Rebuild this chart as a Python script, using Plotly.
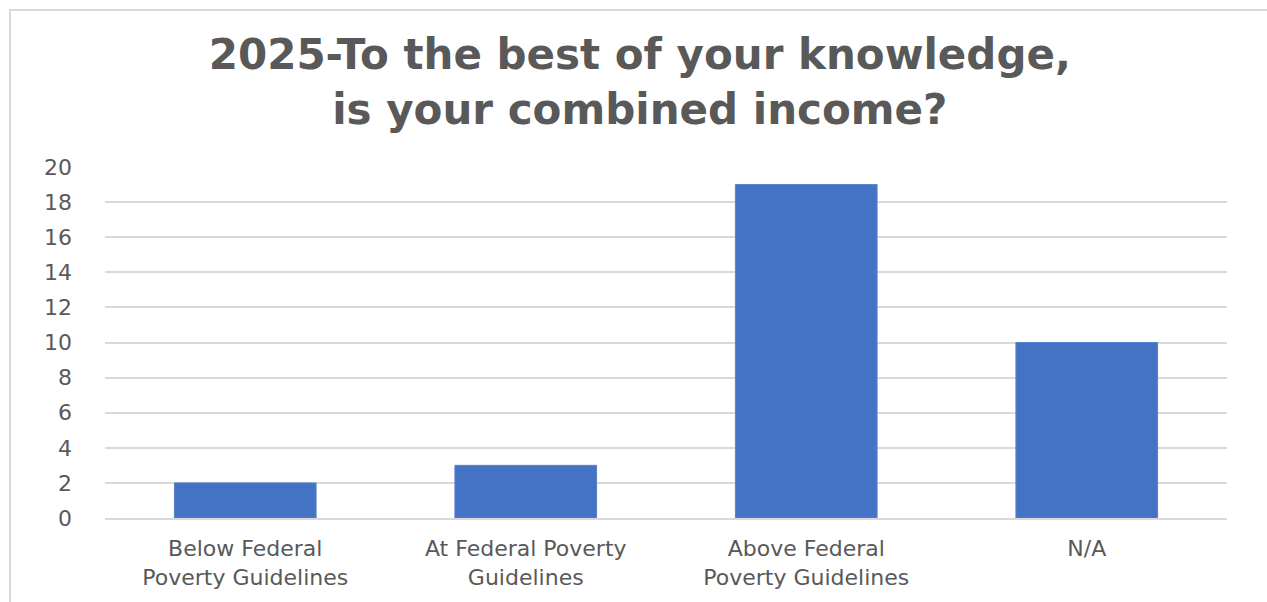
import plotly.graph_objects as go

categories = [
    "Below Federal<br>Poverty Guidelines",
    "At Federal Poverty<br>Guidelines",
    "Above Federal<br>Poverty Guidelines",
    "N/A",
]
counts = [2, 3, 19, 10]
y_ticks = [0, 2, 4, 6, 8, 10, 12, 14, 16, 18, 20]

TEXT = "#595959"
GRID = "#d9d9d9"
BAR = "#4472c4"
FONT = "DejaVu Sans"

fig = go.Figure(
    go.Bar(
        x=categories,
        y=counts,
        marker=dict(color=BAR, line=dict(color="#5b80cc", width=1)),
        width=0.505,
        hoverinfo="x+y",
    )
)

W, H = 1267, 602
L, R, T, B = 105, 40, 167, 84
pw, ph = W - L - R, H - T - B

def px_x(v):
    return (v - L) / pw

def px_y(v):
    return (H - B - v) / ph

# light frame around the whole chart
fig.add_shape(
    type="rect", xref="paper", yref="paper",
    x0=px_x(10), x1=px_x(1290), y0=px_y(620), y1=px_y(10),
    line=dict(color=GRID, width=2), fillcolor="rgba(0,0,0,0)", layer="below",
)

fig.update_layout(
    width=W, height=H,
    margin=dict(l=L, r=R, t=T, b=B),
    paper_bgcolor="white",
    plot_bgcolor="white",
    showlegend=False,
    title=dict(
        text="2025-To the best of your knowledge,<br>is your combined income?",
        x=0.505, xanchor="center", xref="container",
        y=0.885, yanchor="middle", yref="container",
        font=dict(family=FONT, size=42, color=TEXT, weight="bold"),
    ),
    font=dict(family=FONT, color=TEXT),
)

fig.update_xaxes(
    tickfont=dict(family=FONT, size=22, color=TEXT),
    showgrid=False,
    showline=True, linecolor=GRID, linewidth=2,
    ticks="", ticklabelstandoff=10,
)
fig.update_yaxes(
    range=[0, 20],
    tickvals=y_ticks,
    tickfont=dict(family=FONT, size=22, color=TEXT),
    showgrid=True, gridcolor=GRID, gridwidth=2,
    zeroline=False, showline=False, ticks="",
    ticklabelstandoff=32,
)

fig.write_html("out.html")
